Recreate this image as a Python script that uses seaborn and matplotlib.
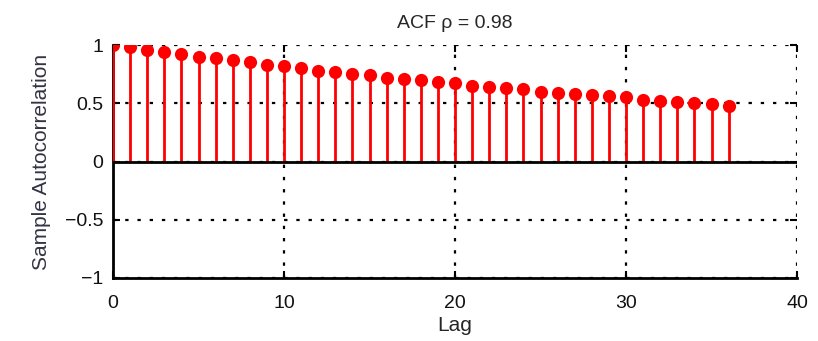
import matplotlib
matplotlib.use("Agg")
import matplotlib.pyplot as plt
import seaborn as sns
import pandas as pd

lags = list(range(37))
acf_values = [1.00, 0.98, 0.96, 0.94, 0.92, 0.90, 0.89, 0.87, 0.85, 0.83,
              0.82, 0.80, 0.78, 0.77, 0.75, 0.74, 0.72, 0.71, 0.70, 0.68,
              0.67, 0.65, 0.64, 0.63, 0.62, 0.60, 0.59, 0.58, 0.57, 0.56,
              0.55, 0.53, 0.52, 0.51, 0.50, 0.49, 0.48]
x_ticks = [0, 10, 20, 30, 40]
y_ticks = [-1, -0.5, 0, 0.5, 1]
y_tick_labels = ["\u22121", "\u22120.5", "0", "0.5", "1"]
title = "ACF \u03c1 = 0.98"

sns.set_style("white")
plt.rcParams['font.family'] = ['Liberation Sans', 'DejaVu Sans']

df = pd.DataFrame({"Lag": lags, "ACF": acf_values})

fig = plt.figure(figsize=(8.18, 3.41), dpi=100)
ax = fig.add_axes([113/818, 1 - 278/341, (797-113)/818, (278-45)/341])

ax.vlines(df["Lag"], 0, df["ACF"], color="#ff0000", linewidth=2.0, zorder=3)
sns.scatterplot(data=df, x="Lag", y="ACF", ax=ax, color="#ff0000", s=90,
                edgecolor="#ff0000", linewidth=0, zorder=4, legend=False)
ax.axhline(0, color="black", linewidth=2.0, zorder=3)

ax.set_xlim(0, 40)
ax.set_ylim(-1, 1)
ax.set_xticks(x_ticks)
ax.set_yticks(y_ticks)
ax.set_yticklabels(y_tick_labels)
ax.grid(True, color="black", linestyle=(0, (1.5, 4)), linewidth=1.6)
ax.tick_params(direction="in", length=5, width=1.5, labelsize=14,
               colors="black", top=True, right=True, bottom=True, left=True)
ax.tick_params(axis="x", pad=12)
ax.tick_params(axis="y", pad=7)
ax.tick_params(axis="both", labelcolor="#111111")
for side in ["top", "right"]:
    ax.spines[side].set_visible(False)
for side in ["left", "bottom"]:
    ax.spines[side].set_linewidth(2.0)
    ax.spines[side].set_color("black")

ax.set_xlabel("Lag", fontsize=15, labelpad=3)
ax.set_ylabel("Sample Autocorrelation", fontsize=15, labelpad=10, color="#333344")
ax.set_title(title, fontsize=14, pad=12)

fig.savefig("out.png", dpi=100)
